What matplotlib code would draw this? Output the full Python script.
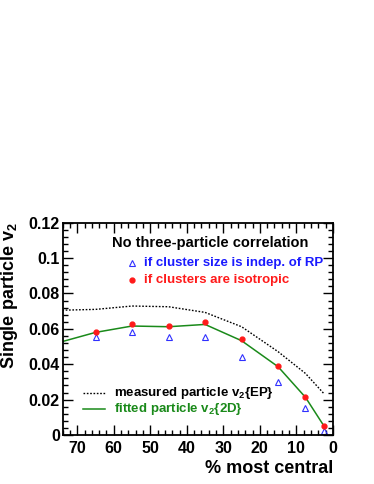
import numpy as np
import matplotlib
matplotlib.use("Agg")
import matplotlib.pyplot as plt
from matplotlib.ticker import MultipleLocator

plt.rcParams['font.family'] = ['Liberation Sans', 'DejaVu Sans']
plt.rcParams['font.weight'] = 'bold'
plt.rcParams['axes.labelweight'] = 'bold'
plt.rcParams['mathtext.fontset'] = 'custom'
plt.rcParams['mathtext.rm'] = 'Liberation Sans:bold'
plt.rcParams['mathtext.bf'] = 'Liberation Sans:bold'
plt.rcParams['mathtext.default'] = 'bf'

# centrality bins (% most central)
cent = [65, 55, 45, 35, 25, 15, 7.5, 2.5]
v2_isotropic = [0.0584, 0.0625, 0.0618, 0.0640, 0.0543, 0.0388, 0.0215, 0.0051]
v2_indep_rp = [0.0556, 0.0580, 0.0552, 0.0552, 0.0439, 0.0300, 0.0155, 0.0023]

# curves
cent_fit = [75, 65, 55, 45, 35, 25, 15, 7.5, 2.5]
v2_fit = [0.0523, 0.0580, 0.0616, 0.0612, 0.0625, 0.0533, 0.0386, 0.0213, 0.0053]
cent_ep = [75, 65, 55, 45, 35, 25, 15, 7.5, 2.5]
v2_ep = [0.0705, 0.0710, 0.0729, 0.0725, 0.0693, 0.0612, 0.0471, 0.0348, 0.0235]

fig = plt.figure(figsize=(3.74, 4.84), dpi=100)
ax = fig.add_axes([0.1676, 0.1012, 0.7224, 0.4387])

ax.plot(cent_ep, v2_ep, color='black', ls=(0, (1.2, 1.2)), lw=1.0)
ax.plot(cent_fit, v2_fit, color='#1a8a1a', lw=1.1)
ax.plot(cent, v2_indep_rp, ls='none', marker='^', ms=4, mfc='none',
        mec='#3030ff', mew=0.8)
ax.plot(cent, v2_isotropic, ls='none', marker='o', ms=3.5, color='#ff1a1a')

ax.set_xlim(74, 0)
ax.set_ylim(0, 0.12)

ax.xaxis.set_major_locator(MultipleLocator(10))
ax.xaxis.set_minor_locator(MultipleLocator(2))
ax.yaxis.set_minor_locator(MultipleLocator(0.004))
ax.set_yticks([0, 0.02, 0.04, 0.06, 0.08, 0.1, 0.12])
ax.set_yticklabels(['0', '0.02', '0.04', '0.06', '0.08', '0.1', '0.12'])

ax.tick_params(which='both', direction='in', top=True, right=True,
               labelsize=11.5, width=1.0)
ax.tick_params(which='major', length=7)
ax.tick_params(which='minor', length=3.5)
ax.tick_params(axis='y', which='major', pad=2)
ax.tick_params(axis='x', which='major', pad=4)
for lab in ax.get_xticklabels() + ax.get_yticklabels():
    lab.set_fontweight('bold')
for s in ax.spines.values():
    s.set_linewidth(1.3)

ax.set_xlabel('% most central', fontsize=13, fontweight='bold', loc='right', labelpad=3)
ax.set_ylabel('Single particle v$_2$', fontsize=13, fontweight='bold', loc='top')
ax.yaxis.set_label_coords(-0.158, 1.0)

ax.text(0.545, 0.905, 'No three-particle correlation', transform=ax.transAxes,
        ha='center', va='center', fontsize=10.5, fontweight='bold')
ax.plot([0.258], [0.812], transform=ax.transAxes, marker='^', ms=4,
        mfc='none', mec='#3030ff', mew=0.8)
ax.text(0.3, 0.812, 'if cluster size is indep. of RP', transform=ax.transAxes,
        ha='left', va='center', fontsize=9.5, color='#1a1aff', fontweight='bold')
ax.plot([0.258], [0.732], transform=ax.transAxes, marker='o', ms=3.5,
        color='#ff1a1a')
ax.text(0.3, 0.732, 'if clusters are isotropic', transform=ax.transAxes,
        ha='left', va='center', fontsize=9.5, color='#ff1a1a', fontweight='bold')

ax.plot([0.075, 0.155], [0.197, 0.197], transform=ax.transAxes,
        color='black', ls=(0, (1.2, 1.2)), lw=1.0)
ax.text(0.19, 0.197, 'measured particle v$_2${EP}', transform=ax.transAxes,
        ha='left', va='center', fontsize=9.5, color='black', fontweight='bold')
ax.plot([0.075, 0.155], [0.122, 0.122], transform=ax.transAxes,
        color='#1a8a1a', lw=1.1)
ax.text(0.19, 0.122, 'fitted particle v$_2${2D}', transform=ax.transAxes,
        ha='left', va='center', fontsize=9.5, color='#1a8a1a', fontweight='bold')

fig.savefig('out.png', dpi=100)
